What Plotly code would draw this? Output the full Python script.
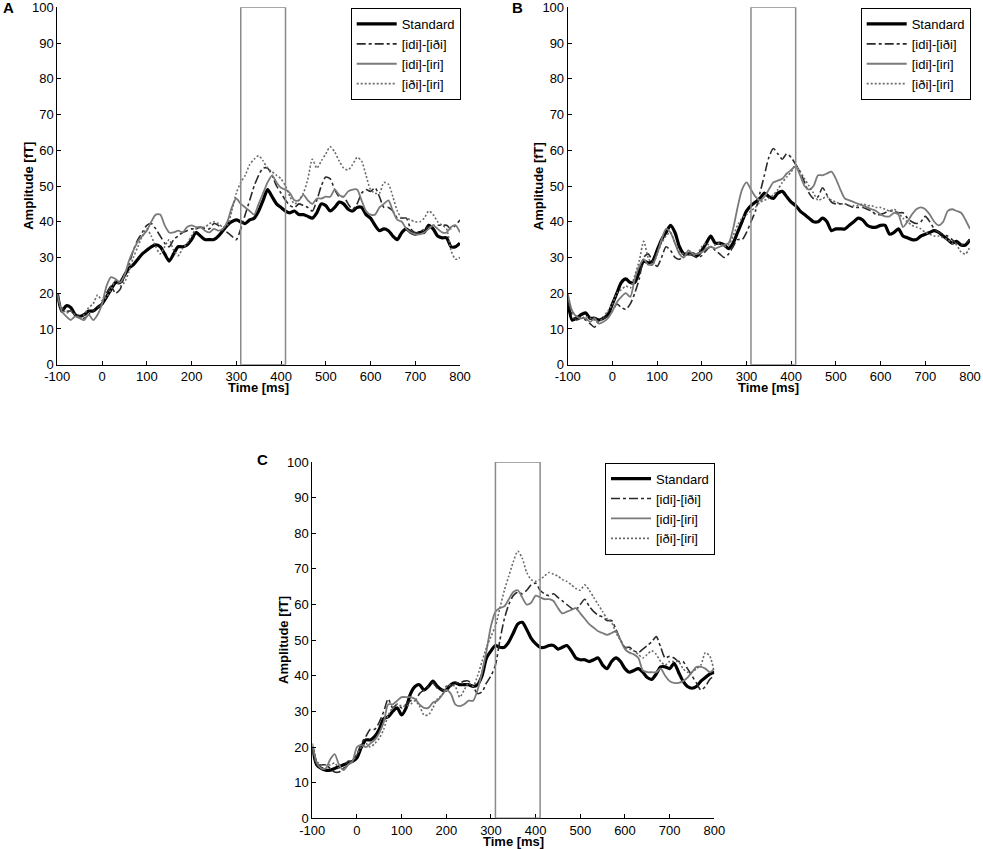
import plotly.graph_objects as go

W, H = 983, 849

time_ms = list(range(-100, 801, 10))

series_names = ["Standard", "[idi]-[iði]", "[idi]-[iri]", "[iði]-[iri]"]

# ---------------- Panel A ----------------
a_standard = [20, 15, 16.5, 16, 14, 13.5, 14, 15, 15, 16, 17, 19, 21, 23, 23, 25, 27, 28, 29.5, 31,
              32, 33, 33.5, 33, 31, 29, 31, 33, 33, 33.5, 35, 37, 36, 35, 35, 35, 36, 37.5, 39, 40,
              40.5, 40, 39.5, 40.5, 41, 43, 46, 49, 47, 45, 44, 43, 42.5, 43, 42, 42, 41.5, 41, 42.5, 45,
              44.5, 43, 44, 45.5, 45, 43.5, 43, 44, 44, 42, 41, 39, 37.5, 38, 37.5, 36, 35, 37, 38, 37,
              36.5, 37, 37, 39, 38, 36, 35.5, 35.5, 33, 33, 34]
a_idi_idhi = [19, 16, 15, 15, 14, 13.5, 13, 14, 15, 16, 17, 20, 22, 20, 21, 25, 28, 32, 35, 37,
              39, 39.5, 38, 36, 34, 33, 35, 36, 37, 37.5, 38, 38, 38.5, 38, 38, 39.5, 39, 37.5, 37, 36,
              35, 38, 42, 46, 50, 53, 55, 55, 53, 50, 48, 46, 44.5, 44, 45, 44.5, 44, 43, 46, 50,
              52.5, 52, 49, 47, 47, 45, 43.5, 45, 48, 49, 48.5, 49.5, 47, 44, 44, 43, 41, 41, 41, 38,
              37, 37, 38, 38.5, 39, 39, 39, 39, 38, 39, 40.5]
a_idi_iri = [20, 15, 13.5, 12.5, 13.5, 13, 12.5, 14, 12.5, 14, 17, 22, 24.5, 24, 23, 25, 29, 32, 34.5, 36,
             37.5, 40, 42, 42, 39, 37, 37, 37.5, 37, 38.5, 39, 38.5, 38.5, 37.5, 37, 38, 37.5, 38, 40, 44,
             46.5, 45, 44, 43, 42, 45, 48, 51, 53, 51, 49.5, 49, 48, 46, 46, 47.5, 46, 45, 46.5, 46.5,
             47, 47, 49, 47.5, 47, 48.5, 49, 49, 46, 43, 42, 42, 44, 45, 46, 43, 40.5, 40, 38, 37,
             36.5, 36.5, 37, 38, 39, 38, 37, 37, 38.5, 39, 37]
a_idhi_iri = [18, 16, 14.5, 15, 14, 13, 14, 16, 17, 19.5, 18, 19, 21, 23.5, 22, 23, 26, 30, 33, 36,
              38, 36, 33, 31, 33, 35, 32, 30.5, 32.5, 34, 36, 38, 38.5, 38.5, 39.5, 40, 39.5, 38.5, 39, 43,
              48, 51, 53, 56, 57.5, 58.5, 57, 55, 54, 53, 52, 50, 47, 45, 46, 48, 52, 57.5, 55, 57,
              59, 61, 59.5, 57, 55, 54.5, 56, 58, 57, 53, 49, 48, 48, 51, 50.5, 47, 43, 41, 41, 40.5,
              40, 40, 41, 43, 42, 40, 39, 38, 32, 29.5, 30]

# ---------------- Panel B ----------------
b_standard = [18, 12.5, 13, 14, 14.5, 13, 13, 12.5, 13, 14, 17, 20, 23, 24, 23, 23, 26, 29, 28.5, 29,
              32, 35, 37, 39, 37, 33, 31, 31, 31, 30.5, 32, 34, 36, 34, 34, 33.5, 32.5, 34, 37, 40,
              43, 44.5, 45.5, 46.5, 48, 47, 46.5, 48, 48.5, 47, 45.5, 44.5, 43, 42, 41, 40, 40, 41, 40, 37.5,
              38, 38, 38, 39, 40, 41, 40.5, 39, 38.5, 38.5, 39, 39, 36.5, 37, 38, 36, 35.5, 35, 35, 36,
              36.5, 37, 37.5, 37, 36, 35, 34, 34.5, 33.5, 33.5, 35]
b_idi_idhi = [18, 14, 12.5, 13, 12.5, 11.5, 10.5, 12.5, 13, 13.5, 15, 17, 16, 15.5, 17, 20, 24, 30, 31, 29,
              27.5, 30, 33, 32, 30, 29.5, 30.5, 31, 30.5, 30, 30.5, 32, 33, 32, 31, 30, 31, 33, 35, 35,
              37, 40, 43, 48, 53, 58, 60.5, 59, 57.5, 59, 58, 56, 54, 51, 48, 46.5, 47, 49.5, 47.5, 45.5,
              45, 45, 45, 44.5, 44, 44, 44, 43.5, 43, 42, 42, 42.5, 43, 43, 42.5, 42.5, 41, 40, 39.5, 40,
              41.5, 40, 38, 37, 36.5, 36, 35, 34, 33.5, 34, 35]
b_idi_iri = [20, 15, 13.5, 13, 13, 12, 13, 11.5, 12, 13, 15, 17.5, 19, 20, 19, 24, 27.5, 29.5, 28, 28,
             31, 35, 38, 37, 34, 31, 30, 32, 31, 31, 31.5, 32.5, 33, 32.5, 33, 33.5, 34, 38, 44, 49,
             51, 49, 47, 46, 47, 49, 51, 51.5, 52, 53.5, 54.5, 55.5, 53, 50, 49, 50, 53, 53, 53.5, 54,
             52, 49, 46.5, 46, 45.5, 45, 44.5, 44, 43.5, 43, 42, 41.5, 41.5, 42.5, 42, 38.5, 40, 42, 43.5, 44,
             43.5, 42, 40, 39, 40, 43, 43.5, 43, 42.5, 40.5, 38]
b_idhi_iri = [19, 15, 13.5, 13, 13.5, 13, 12.5, 12, 13.5, 15, 17, 20, 21, 22, 21.5, 25, 29, 34.5, 30, 28,
              31, 34, 36, 37, 34, 31.5, 31, 31, 30.5, 31, 33, 34, 33, 33.5, 34, 33, 33.5, 36, 39, 41,
              42, 43, 44, 45.5, 46, 46.5, 47.5, 49, 51, 52.5, 54, 56, 54, 52, 50, 48, 46, 46.5, 47, 46,
              45.5, 45, 45, 44.5, 44.5, 44.5, 45, 44.5, 44.5, 44, 44, 43.5, 43, 43.5, 42.5, 41, 40, 39, 38.5, 38,
              37, 36.5, 36, 36, 35.5, 35, 34, 33.5, 31.5, 31, 33]

# ---------------- Panel C ----------------
c_standard = [20, 15, 14, 13.5, 13.5, 14, 14.5, 15, 15.5, 16, 17, 20, 22, 22, 23, 25, 28, 28.5, 30, 31,
              29, 31, 35, 37, 37.5, 36, 37, 38.5, 37, 36, 36, 37.5, 38, 37.5, 37.5, 37.5, 37, 37.5, 40, 45,
              47, 48.5, 48, 48, 49.5, 52, 54.5, 55, 53, 50.5, 49, 48, 48, 48.5, 48.5, 47.5, 48, 48.5, 47, 45,
              44.5, 44.5, 44, 44.5, 45, 43, 42, 44, 45, 44, 42, 41, 41.5, 42, 41, 39.5, 39, 40.5, 42.5, 42.5,
              42, 43.5, 41, 38.5, 37, 36.5, 37, 38.5, 39.5, 40.5, 41]
c_idi_idhi = [20, 15, 15, 15, 14, 13, 13, 14, 16, 16, 18, 21, 23, 25, 25, 27, 30, 33.5, 31, 32,
              31, 32, 33, 33, 35, 36, 37, 38, 36.5, 36, 37, 37, 38, 38, 38.5, 38.5, 37, 35, 35.5, 38,
              40, 43, 50, 56, 60, 62.5, 63.5, 63, 64, 65.5, 66, 64, 63, 62.5, 63, 62, 61, 60, 59, 58.5,
              60, 61.5, 59.5, 58, 57, 56.5, 55.5, 55.5, 53, 50, 48, 48, 47, 46.5, 47.5, 48.5, 49.5, 51, 48, 45,
              45.5, 45, 44, 44, 42, 40, 38, 36, 37, 39, 40]
c_idi_iri = [21, 15.5, 14, 14, 16.5, 18, 15, 13.5, 15, 16, 20, 20.5, 20, 21, 22, 24, 27, 32, 32, 33,
             34, 34, 34, 33.5, 32, 31, 31, 32.5, 33, 34.5, 36, 35, 32, 31.5, 32, 33, 33, 36, 41, 47,
             54, 58, 59, 59.5, 61.5, 63.5, 64, 62, 60, 60.5, 62.5, 62, 61.5, 61.5, 61, 59, 57.5, 58, 58.5, 59,
             57.5, 56, 54.5, 53.5, 52.5, 52, 51.5, 52, 52.5, 50, 47.5, 46.5, 46, 45, 41.5, 41, 41, 41, 42, 40,
             38.5, 38, 38, 38.5, 39.5, 41, 42.5, 42.5, 42, 41, 42]
c_idhi_iri = [20, 16, 15, 15, 15, 15.5, 14, 14, 15, 16, 18, 20, 21, 20, 21, 22.5, 25, 29, 31, 32,
              31.5, 31.5, 32, 33, 31.5, 29, 29, 31, 33.5, 34.5, 37, 37.5, 37, 34, 36, 38, 37, 40, 44, 48,
              51, 54, 59, 64, 68, 72, 75, 73, 69, 67, 66.5, 67, 68, 69, 68.5, 68, 67, 66.5, 65.5, 64.5,
              64, 65.5, 64, 62, 60, 58, 56, 55, 52, 50, 48, 47.5, 47, 46, 45, 46, 47, 46, 44, 43,
              44, 44, 44, 42, 41, 41, 42, 43, 46.5, 45.5, 41]

x_ticks = list(range(-100, 801, 100))
x_tick_text = ["-100", "0", "100", "200", "300", "400", "500", "600", "700", "800"]
y_ticks = list(range(0, 101, 10))
y_tick_text = ["0", "10", "20", "30", "40", "50", "60", "70", "80", "90", "100"]
window_ms = (310, 410)
panel_labels = ["A", "B", "C"]

panels = [
    [a_standard, a_idi_idhi, a_idi_iri, a_idhi_iri],
    [b_standard, b_idi_idhi, b_idi_iri, b_idhi_iri],
    [c_standard, c_idi_idhi, c_idi_iri, c_idhi_iri],
]

# plot-area boxes in pixels: (left, top, right, bottom)
boxes = [(57.3, 7.3, 460.0, 364.7), (567.7, 7.3, 970.0, 364.7), (312.3, 462.0, 714.3, 818.3)]
label_pos = [(8, 8), (517, 8), (262.5, 459.5)]

styles = [
    dict(color="#000000", width=3.2, dash="solid"),
    dict(color="#2a2a2a", width=1.6, dash="9px,3px,3px,3px"),
    dict(color="#7a7a7a", width=1.8, dash="solid"),
    dict(color="#6a6a6a", width=1.6, dash="2px,2px"),
]

FONT = "Liberation Sans, Arial, Helvetica, sans-serif"

def px_x(p):
    return p / W

def px_y(p):
    return 1 - p / H

fig = go.Figure()
layout = dict(
    width=W, height=H,
    margin=dict(l=0, r=0, t=0, b=0, autoexpand=False),
    paper_bgcolor="white", plot_bgcolor="white",
    font=dict(family=FONT, size=13, color="black"),
    shapes=[], annotations=[],
)

for i, (series, box) in enumerate(zip(panels, boxes)):
    sfx = "" if i == 0 else str(i + 1)
    xa, ya = "x" + sfx, "y" + sfx
    leg = "legend" + sfx
    for name, vals, st in zip(series_names, series, styles):
        fig.add_trace(go.Scatter(
            x=time_ms, y=vals, name=name, mode="lines",
            line=dict(color=st["color"], width=st["width"], dash=st["dash"],
                      shape="spline", smoothing=0.7),
            xaxis=xa, yaxis=ya, legend=leg,
        ))
    l, t, r, b = box
    axis_common = dict(showline=True, linecolor="black", linewidth=1, mirror=False,
                       ticks="inside", ticklen=4, tickcolor="black", tickwidth=1,
                       showgrid=False, zeroline=False, automargin=False,
                       ticklabeloverflow="allow",
                       tickfont=dict(family=FONT, size=13, color="black"))
    layout["xaxis" + sfx] = dict(axis_common, domain=[px_x(l), px_x(r)], range=[-100, 800],
                                 tickmode="array", tickvals=x_ticks, ticktext=x_tick_text,
                                 anchor=ya)
    layout["yaxis" + sfx] = dict(axis_common, domain=[px_y(b), px_y(t)], range=[0, 100],
                                 tickmode="array", tickvals=y_ticks, ticktext=y_tick_text,
                                 anchor=xa)
    layout[leg] = dict(
        x=px_x(r + 0.7), y=px_y(t + 0.7), xanchor="right", yanchor="top",
        bordercolor="black", borderwidth=1, bgcolor="white",
        font=dict(family=FONT, size=13, color="black"),
        tracegroupgap=0, itemwidth=40,
    )
    layout["shapes"].append(dict(type="rect", xref=xa, yref=ya,
                                 x0=window_ms[0], x1=window_ms[1], y0=0, y1=100,
                                 line=dict(color="#8a8a8a", width=1.5), layer="above"))
    # axis titles
    layout["annotations"].append(dict(text="<b>Time [ms]</b>", xref="paper", yref="paper",
                                      x=px_x((l + r) / 2), y=px_y(b + 23), showarrow=False,
                                      xanchor="center", yanchor="middle",
                                      font=dict(family=FONT, size=13, color="black")))
    layout["annotations"].append(dict(text="<b>Amplitude [fT]</b>", xref="paper", yref="paper",
                                      x=px_x(l - 29.5), y=px_y((t + b) / 2), showarrow=False,
                                      textangle=-90, xanchor="center", yanchor="middle",
                                      font=dict(family=FONT, size=13, color="black")))
    lx, ly = label_pos[i]
    layout["annotations"].append(dict(text="<b>%s</b>" % panel_labels[i], xref="paper", yref="paper",
                                      x=px_x(lx), y=px_y(ly), showarrow=False,
                                      xanchor="center", yanchor="middle",
                                      font=dict(family=FONT, size=15, color="black")))

fig.update_layout(**layout)
fig.write_html("out.html",
               config={"displayModeBar": False},
               post_script="document.body.style.margin='0';document.body.style.overflow='hidden';")
